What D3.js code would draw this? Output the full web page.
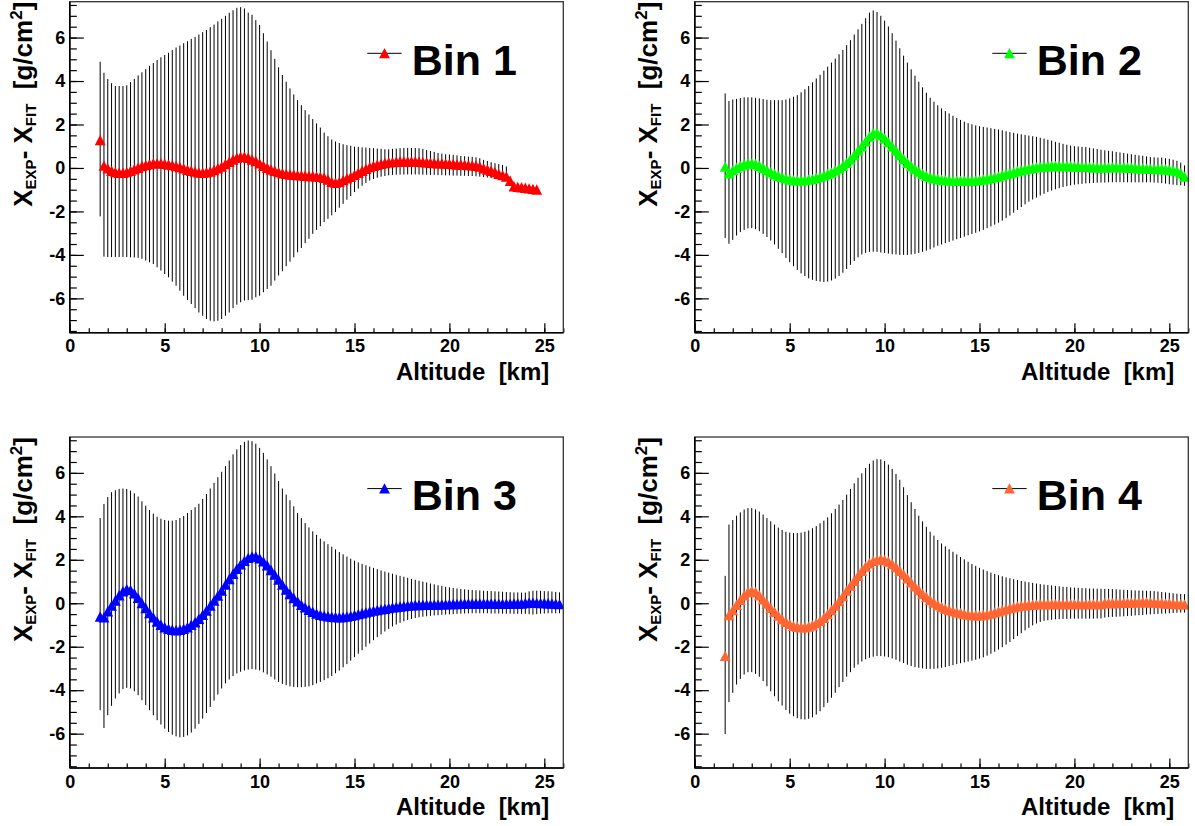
<!DOCTYPE html>
<html>
<head>
<meta charset="utf-8">
<script src="https://cdn.jsdelivr.net/npm/d3@7"></script>
<style>
  html, body { margin: 0; padding: 0; background: #fff; }
  svg { display: block; }
  text { font-family: "Liberation Sans", Arial, Helvetica, sans-serif; font-weight: bold; white-space: pre; }
</style>
</head>
<body>
<svg id="chart" width="1195" height="826"></svg>
<script>
// ---------------- DATA ----------------
const altitude = [
  1.6,1.8,2.0,2.2,2.4,2.6,2.8,3.0,3.2,3.4,
  3.6,3.8,4.0,4.2,4.4,4.6,4.8,5.0,5.2,5.4,
  5.6,5.8,6.0,6.2,6.4,6.6,6.8,7.0,7.2,7.4,
  7.6,7.8,8.0,8.2,8.4,8.6,8.8,9.0,9.2,9.4,
  9.6,9.8,10.0,10.2,10.4,10.6,10.8,11.0,11.2,11.4,
  11.6,11.8,12.0,12.2,12.4,12.6,12.8,13.0,13.2,13.4,
  13.6,13.8,14.0,14.2,14.4,14.6,14.8,15.0,15.2,15.4,
  15.6,15.8,16.0,16.2,16.4,16.6,16.8,17.0,17.2,17.4,
  17.6,17.8,18.0,18.2,18.4,18.6,18.8,19.0,19.2,19.4,
  19.6,19.8,20.0,20.2,20.4,20.6,20.8,21.0,21.2,21.4,
  21.6,21.8,22.0,22.2,22.4,22.6,22.8,23.0,23.2,23.4,
  23.6,23.8,24.0,24.2,24.4,24.6,24.8,25.0,25.2,25.4,
  25.6,25.8
];

const binLabels = ["Bin 1", "Bin 2", "Bin 3", "Bin 4"];
const binColors = ["#ff0000", "#00ff00", "#0000ff", "#ff6633"];

// Bin 1 : value, upper end of error bar, lower end of error bar
const bin1Value = [
  1.28,0.10,-0.03,-0.14,-0.20,-0.23,-0.23,-0.20,-0.14,-0.07,
  0.00,0.08,0.12,0.16,0.20,0.20,0.20,0.18,0.15,0.12,
  0.08,0.03,-0.03,-0.09,-0.14,-0.18,-0.22,-0.23,-0.21,-0.17,
  -0.10,-0.02,0.06,0.17,0.28,0.38,0.46,0.51,0.51,0.46,
  0.38,0.31,0.20,0.09,0.00,-0.08,-0.14,-0.20,-0.25,-0.28,
  -0.31,-0.32,-0.34,-0.35,-0.37,-0.38,-0.38,-0.40,-0.42,-0.46,
  -0.54,-0.65,-0.69,-0.65,-0.57,-0.49,-0.42,-0.32,-0.23,-0.14,
  -0.05,0.03,0.09,0.14,0.18,0.22,0.25,0.26,0.28,0.29,
  0.29,0.29,0.29,0.29,0.28,0.26,0.25,0.23,0.22,0.20,
  0.20,0.19,0.18,0.17,0.15,0.15,0.14,0.12,0.11,0.09,
  0.05,-0.02,-0.08,-0.14,-0.20,-0.28,-0.34,-0.40,-0.60,-0.85,
  -0.88,-0.90,-0.92,-0.95,-0.97,-1.00
];
const bin1High = [
  4.89,4.38,4.09,3.90,3.77,3.77,3.77,3.80,3.95,4.10,
  4.26,4.40,4.55,4.70,4.83,4.97,5.09,5.20,5.30,5.43,
  5.54,5.63,5.74,5.83,5.94,6.03,6.14,6.25,6.35,6.48,
  6.60,6.74,6.86,7.00,7.14,7.26,7.37,7.40,7.34,7.15,
  7.05,6.80,6.58,6.20,5.82,5.42,5.02,4.63,4.28,3.97,
  3.66,3.38,3.12,2.89,2.66,2.46,2.25,2.05,1.86,1.63,
  1.46,1.31,1.22,1.15,1.09,1.05,1.02,0.98,0.97,0.95,
  0.94,0.92,0.91,0.89,0.88,0.86,0.86,0.88,0.89,0.91,
  0.92,0.92,0.92,0.92,0.91,0.88,0.83,0.78,0.74,0.69,
  0.66,0.63,0.62,0.60,0.58,0.55,0.54,0.52,0.51,0.49,
  0.45,0.37,0.32,0.26,0.22,0.18,0.14,0.07,-0.40,-0.85,
  -0.88,-0.90,-0.92,-0.95,-0.97,-1.00
];
const bin1Low = [
  -2.23,-4.08,-4.10,-4.10,-4.10,-4.10,-4.10,-4.10,-4.11,-4.12,
  -4.14,-4.18,-4.26,-4.34,-4.42,-4.57,-4.72,-4.88,-5.03,-5.23,
  -5.42,-5.65,-5.88,-6.08,-6.26,-6.45,-6.65,-6.80,-6.95,-7.03,
  -7.06,-7.03,-6.95,-6.80,-6.65,-6.45,-6.29,-6.18,-6.10,-6.08,
  -6.06,-5.95,-5.88,-5.72,-5.57,-5.42,-5.18,-4.95,-4.75,-4.52,
  -4.31,-4.11,-3.88,-3.68,-3.46,-3.26,-3.03,-2.85,-2.68,-2.49,
  -2.34,-2.18,-2.03,-1.83,-1.65,-1.46,-1.29,-1.11,-0.95,-0.82,
  -0.69,-0.58,-0.51,-0.45,-0.40,-0.37,-0.34,-0.32,-0.31,-0.31,
  -0.30,-0.30,-0.30,-0.30,-0.30,-0.31,-0.31,-0.32,-0.32,-0.33,
  -0.33,-0.34,-0.34,-0.35,-0.35,-0.36,-0.36,-0.37,-0.37,-0.38,
  -0.40,-0.42,-0.44,-0.46,-0.48,-0.50,-0.52,-0.57,-0.75,-0.85,
  -0.88,-0.90,-0.92,-0.95,-0.97,-1.00
];

// Bin 2
const bin2Value = [
  0.05,-0.26,-0.11,0.00,0.09,0.15,0.20,0.20,0.17,0.09,
  0.00,-0.11,-0.20,-0.29,-0.37,-0.43,-0.49,-0.54,-0.57,-0.58,
  -0.58,-0.57,-0.54,-0.51,-0.46,-0.42,-0.35,-0.29,-0.22,-0.12,
  -0.03,0.09,0.23,0.39,0.58,0.79,1.00,1.22,1.44,1.59,
  1.60,1.50,1.36,1.18,0.99,0.79,0.59,0.40,0.23,0.08,
  -0.06,-0.18,-0.28,-0.37,-0.43,-0.48,-0.52,-0.55,-0.57,-0.58,
  -0.59,-0.60,-0.60,-0.60,-0.60,-0.59,-0.58,-0.57,-0.54,-0.50,
  -0.47,-0.43,-0.40,-0.34,-0.29,-0.25,-0.21,-0.15,-0.11,-0.07,
  -0.04,-0.01,0.02,0.04,0.06,0.07,0.08,0.08,0.08,0.08,
  0.08,0.07,0.06,0.05,0.04,0.04,0.03,0.02,0.02,0.02,
  0.02,0.02,0.03,0.03,0.02,0.02,0.01,0.00,-0.01,-0.02,
  -0.03,-0.04,-0.05,-0.05,-0.06,-0.06,-0.07,-0.10,-0.12,-0.15,
  -0.25,-0.40
];
const bin2High = [
  3.43,3.08,3.15,3.18,3.22,3.25,3.25,3.25,3.23,3.20,
  3.17,3.14,3.12,3.12,3.12,3.12,3.15,3.20,3.28,3.35,
  3.48,3.62,3.77,3.94,4.12,4.29,4.48,4.66,4.85,5.03,
  5.23,5.43,5.65,5.88,6.14,6.38,6.63,6.89,7.15,7.25,
  7.18,7.00,6.78,6.51,6.20,5.86,5.51,5.17,4.85,4.54,
  4.25,3.97,3.71,3.46,3.23,3.05,2.88,2.74,2.62,2.51,
  2.40,2.30,2.21,2.13,2.06,2.01,1.96,1.92,1.89,1.86,
  1.83,1.80,1.77,1.73,1.69,1.65,1.62,1.58,1.55,1.52,
  1.49,1.46,1.43,1.39,1.35,1.30,1.26,1.20,1.16,1.11,
  1.07,1.03,1.00,0.99,0.97,0.96,0.93,0.90,0.87,0.84,
  0.81,0.79,0.77,0.74,0.71,0.69,0.66,0.63,0.61,0.58,
  0.56,0.53,0.50,0.49,0.48,0.48,0.45,0.42,0.38,0.33,
  0.25,0.12
];
const bin2Low = [
  -3.22,-3.49,-3.31,-3.11,-2.95,-2.85,-2.78,-2.77,-2.82,-2.91,
  -3.03,-3.18,-3.34,-3.52,-3.72,-3.92,-4.14,-4.34,-4.52,-4.69,
  -4.85,-4.97,-5.08,-5.15,-5.20,-5.23,-5.25,-5.23,-5.18,-5.09,
  -4.97,-4.82,-4.65,-4.46,-4.28,-4.11,-3.98,-3.91,-3.86,-3.85,
  -3.86,-3.89,-3.91,-3.94,-3.97,-3.98,-4.00,-4.00,-4.00,-3.98,
  -3.95,-3.91,-3.86,-3.80,-3.74,-3.66,-3.58,-3.52,-3.46,-3.40,
  -3.34,-3.28,-3.22,-3.16,-3.10,-3.04,-2.98,-2.92,-2.85,-2.77,
  -2.69,-2.61,-2.52,-2.42,-2.31,-2.19,-2.06,-1.93,-1.80,-1.67,
  -1.55,-1.45,-1.36,-1.27,-1.19,-1.11,-1.04,-0.98,-0.93,-0.88,
  -0.84,-0.80,-0.77,-0.75,-0.73,-0.71,-0.70,-0.69,-0.68,-0.67,
  -0.67,-0.66,-0.66,-0.66,-0.66,-0.66,-0.66,-0.66,-0.66,-0.66,
  -0.66,-0.66,-0.66,-0.67,-0.68,-0.70,-0.72,-0.75,-0.77,-0.79,
  -0.80,-0.82
];

// Bin 3
const bin3Value = [
  -0.62,-0.66,-0.38,-0.12,0.12,0.36,0.54,0.64,0.60,0.45,
  0.24,0.00,-0.23,-0.46,-0.66,-0.85,-1.00,-1.11,-1.18,-1.23,
  -1.25,-1.23,-1.18,-1.11,-1.00,-0.88,-0.72,-0.54,-0.34,-0.12,
  0.11,0.34,0.58,0.85,1.11,1.35,1.58,1.78,1.95,2.08,
  2.14,2.14,2.06,1.92,1.74,1.52,1.31,1.08,0.85,0.62,
  0.42,0.23,0.08,-0.08,-0.20,-0.31,-0.40,-0.48,-0.54,-0.58,
  -0.61,-0.63,-0.64,-0.65,-0.64,-0.62,-0.59,-0.55,-0.51,-0.47,
  -0.43,-0.39,-0.35,-0.32,-0.29,-0.26,-0.23,-0.20,-0.18,-0.16,
  -0.14,-0.12,-0.10,-0.09,-0.09,-0.08,-0.08,-0.08,-0.07,-0.07,
  -0.06,-0.06,-0.05,-0.04,-0.04,-0.03,-0.02,-0.02,-0.02,-0.02,
  -0.02,-0.02,-0.02,-0.02,-0.03,-0.03,-0.03,-0.03,-0.03,-0.02,
  -0.02,-0.02,0.00,0.02,0.02,0.01,0.00,0.00,-0.01,-0.02,
  -0.03,-0.05
];
const bin3High = [
  3.92,4.57,4.89,5.11,5.20,5.26,5.28,5.26,5.18,5.06,
  4.91,4.69,4.49,4.29,4.12,3.98,3.89,3.83,3.80,3.80,
  3.83,3.92,4.02,4.15,4.29,4.42,4.58,4.80,5.03,5.28,
  5.54,5.80,6.05,6.31,6.57,6.85,7.08,7.28,7.43,7.49,
  7.46,7.34,7.15,6.92,6.62,6.31,5.97,5.62,5.28,5.00,
  4.74,4.46,4.15,3.92,3.69,3.49,3.31,3.15,2.97,2.85,
  2.72,2.60,2.48,2.36,2.25,2.15,2.05,1.96,1.88,1.81,
  1.75,1.69,1.63,1.57,1.51,1.46,1.41,1.36,1.31,1.26,
  1.22,1.17,1.12,1.08,1.04,1.00,0.96,0.91,0.87,0.83,
  0.80,0.76,0.73,0.70,0.68,0.66,0.64,0.62,0.61,0.60,
  0.59,0.58,0.57,0.56,0.55,0.54,0.53,0.52,0.51,0.50,
  0.50,0.49,0.49,0.55,0.58,0.58,0.57,0.56,0.55,0.54,
  0.52,0.50
];
const bin3Low = [
  -4.92,-5.74,-5.15,-4.72,-4.38,-4.15,-3.95,-3.89,-3.92,-4.05,
  -4.23,-4.46,-4.69,-4.92,-5.15,-5.38,-5.58,-5.77,-5.92,-6.05,
  -6.12,-6.17,-6.15,-6.08,-5.95,-5.77,-5.55,-5.31,-5.05,-4.77,
  -4.48,-4.20,-3.92,-3.69,-3.51,-3.35,-3.23,-3.15,-3.09,-3.05,
  -3.03,-3.05,-3.09,-3.18,-3.28,-3.38,-3.51,-3.62,-3.71,-3.77,
  -3.82,-3.85,-3.86,-3.86,-3.85,-3.82,-3.77,-3.69,-3.62,-3.54,
  -3.45,-3.35,-3.22,-3.10,-2.95,-2.80,-2.64,-2.48,-2.32,-2.16,
  -2.00,-1.85,-1.70,-1.56,-1.43,-1.30,-1.18,-1.07,-0.98,-0.90,
  -0.83,-0.77,-0.72,-0.68,-0.65,-0.62,-0.60,-0.58,-0.56,-0.55,
  -0.53,-0.52,-0.51,-0.50,-0.49,-0.48,-0.47,-0.47,-0.46,-0.46,
  -0.46,-0.46,-0.46,-0.47,-0.47,-0.47,-0.48,-0.48,-0.48,-0.49,
  -0.49,-0.49,-0.49,-0.50,-0.52,-0.50,-0.48,-0.47,-0.46,-0.46,
  -0.46,-0.46
];

// Bin 4
const bin4Value = [
  -2.43,-0.55,-0.32,-0.08,0.15,0.36,0.51,0.56,0.51,0.36,
  0.17,-0.02,-0.22,-0.40,-0.58,-0.74,-0.86,-0.97,-1.05,-1.09,
  -1.11,-1.11,-1.08,-1.02,-0.92,-0.82,-0.68,-0.51,-0.32,-0.12,
  0.09,0.32,0.57,0.80,1.03,1.26,1.49,1.68,1.83,1.94,
  2.00,2.02,1.98,1.91,1.80,1.66,1.49,1.32,1.14,0.95,
  0.77,0.60,0.43,0.28,0.14,0.02,-0.09,-0.18,-0.26,-0.32,
  -0.37,-0.42,-0.46,-0.50,-0.53,-0.55,-0.56,-0.56,-0.55,-0.52,
  -0.48,-0.43,-0.38,-0.33,-0.28,-0.23,-0.19,-0.15,-0.12,-0.10,
  -0.08,-0.07,-0.06,-0.05,-0.05,-0.05,-0.05,-0.05,-0.05,-0.05,
  -0.05,-0.05,-0.05,-0.05,-0.05,-0.05,-0.05,-0.05,-0.05,-0.05,
  0.00,0.00,0.00,0.00,0.01,0.01,0.02,0.02,0.03,0.04,
  0.05,0.04,0.03,0.02,0.01,0.00,-0.02,-0.02,-0.03,-0.04,
  -0.05,-0.06
];
const bin4High = [
  1.26,3.62,3.83,4.03,4.18,4.31,4.38,4.38,4.32,4.22,
  4.08,3.92,3.77,3.62,3.48,3.37,3.29,3.25,3.23,3.23,
  3.25,3.29,3.35,3.45,3.55,3.68,3.80,3.95,4.14,4.34,
  4.54,4.75,5.00,5.26,5.52,5.77,5.98,6.22,6.42,6.57,
  6.63,6.62,6.54,6.38,6.18,5.95,5.68,5.34,4.98,4.65,
  4.34,4.03,3.77,3.52,3.29,3.11,2.91,2.75,2.62,2.49,
  2.37,2.25,2.13,2.02,1.91,1.81,1.72,1.63,1.55,1.48,
  1.41,1.35,1.29,1.24,1.19,1.15,1.11,1.07,1.03,1.00,
  0.97,0.94,0.91,0.88,0.86,0.84,0.82,0.80,0.78,0.76,
  0.75,0.73,0.72,0.71,0.70,0.69,0.68,0.68,0.67,0.67,
  0.66,0.66,0.65,0.64,0.63,0.62,0.61,0.60,0.59,0.59,
  0.58,0.58,0.57,0.56,0.54,0.52,0.50,0.48,0.46,0.44,
  0.43,0.42
];
const bin4Low = [
  -6.02,-4.55,-4.12,-3.74,-3.48,-3.28,-3.17,-3.17,-3.25,-3.38,
  -3.58,-3.82,-4.05,-4.28,-4.51,-4.71,-4.91,-5.08,-5.20,-5.29,
  -5.34,-5.35,-5.32,-5.25,-5.12,-4.97,-4.78,-4.58,-4.35,-4.12,
  -3.86,-3.62,-3.38,-3.17,-2.97,-2.82,-2.68,-2.58,-2.51,-2.46,
  -2.43,-2.43,-2.45,-2.48,-2.54,-2.60,-2.68,-2.75,-2.83,-2.89,
  -2.94,-2.97,-3.00,-3.02,-3.02,-3.02,-3.00,-2.97,-2.94,-2.89,
  -2.85,-2.80,-2.76,-2.72,-2.68,-2.64,-2.60,-2.55,-2.49,-2.41,
  -2.32,-2.23,-2.13,-2.02,-1.90,-1.78,-1.65,-1.51,-1.38,-1.25,
  -1.13,-1.02,-0.93,-0.86,-0.81,-0.78,-0.76,-0.74,-0.73,-0.72,
  -0.72,-0.71,-0.71,-0.71,-0.71,-0.71,-0.71,-0.71,-0.70,-0.70,
  -0.66,-0.64,-0.63,-0.62,-0.61,-0.60,-0.59,-0.58,-0.56,-0.55,
  -0.54,-0.52,-0.51,-0.50,-0.49,-0.48,-0.47,-0.46,-0.45,-0.44,
  -0.43,-0.43
];

// Axis tick values
const xMajorTicks = [0, 5, 10, 15, 20, 25];
const xMinorTicks = [0,1,2,3,4,5,6,7,8,9,10,11,12,13,14,15,16,17,18,19,20,21,22,23,24,25,26];
const yMajorTicks = [-6, -4, -2, 0, 2, 4, 6];
const yMinorTicks = [-7.5,-7,-6.5,-6,-5.5,-5,-4.5,-4,-3.5,-3,-2.5,-2,-1.5,-1,-0.5,0,
                     0.5,1,1.5,2,2.5,3,3.5,4,4.5,5,5.5,6,6.5,7,7.5];
const xDomain = [0, 26];
const yDomain = [-7.58, 7.65];

// ---------------- LAYOUT ----------------
const series = [
  {value: bin1Value, high: bin1High, low: bin1Low},
  {value: bin2Value, high: bin2High, low: bin2Low},
  {value: bin3Value, high: bin3High, low: bin3Low},
  {value: bin4Value, high: bin4High, low: bin4Low}
];
const frames = [
  {left: 69.8,  top: 1.7},
  {left: 694.8, top: 1.7},
  {left: 69.8,  top: 437},
  {left: 694.8, top: 437}
];
const W = 493.5, H = 331;
const FONT = '"Liberation Sans", Arial, Helvetica, sans-serif';

const svg = d3.select("#chart");
svg.append("rect").attr("width", 1195).attr("height", 826).attr("fill", "#fff");

const triPath = "M-5.4,5L5.4,5L0,-5.4Z";

series.forEach((s, i) => {
  const f = frames[i];
  const x = d3.scaleLinear().domain(xDomain).range([0, W]);
  const y = d3.scaleLinear().domain(yDomain).range([H, 0]);
  const g = svg.append("g").attr("transform", `translate(${f.left},${f.top})`);

  const clipId = "clip" + i;
  g.append("clipPath").attr("id", clipId)
    .append("rect").attr("x", 0).attr("y", 0).attr("width", W).attr("height", H);

  const n = Math.min(s.value.length, s.high.length, s.low.length, altitude.length);
  const pts = d3.range(n).map(k => ({x: altitude[k], v: s.value[k], hi: s.high[k], lo: s.low[k]}));

  const data = g.append("g").attr("clip-path", `url(#${clipId})`);
  // error bars
  data.append("g").selectAll("line").data(pts).join("line")
    .attr("x1", d => x(d.x)).attr("x2", d => x(d.x))
    .attr("y1", d => y(d.hi)).attr("y2", d => y(d.lo))
    .attr("stroke", "#000").attr("stroke-width", 1);
  // markers
  data.append("g").selectAll("path").data(pts).join("path")
    .attr("d", triPath)
    .attr("transform", d => `translate(${x(d.x)},${y(d.v)})`)
    .attr("fill", binColors[i]);

  // axes (ticks point inward)
  const xMaj = d3.axisBottom(x).tickValues(xMajorTicks).tickSize(-9.5).tickPadding(7)
    .tickFormat(d => String(d));
  const xMin = d3.axisBottom(x).tickValues(xMinorTicks).tickSize(-4.5).tickFormat("");
  const yMaj = d3.axisLeft(y).tickValues(yMajorTicks).tickSize(-14).tickPadding(4.5)
    .tickFormat(d => String(d));
  const yMin = d3.axisLeft(y).tickValues(yMinorTicks).tickSize(-7).tickFormat("");

  const gxMin = g.append("g").attr("transform", `translate(0,${H})`).call(xMin);
  const gxMaj = g.append("g").attr("transform", `translate(0,${H})`).call(xMaj);
  const gyMin = g.append("g").call(yMin);
  const gyMaj = g.append("g").call(yMaj);
  [gxMin, gxMaj, gyMin, gyMaj].forEach(a => {
    a.select(".domain").remove();
    a.selectAll(".tick line").attr("stroke", "#000").attr("stroke-width", 1.2);
    a.selectAll("text").attr("font-family", FONT).attr("font-weight", "bold")
      .attr("font-size", 18).attr("fill", "#000");
  });

  // frame
  g.append("rect").attr("x", 0).attr("y", 0).attr("width", W).attr("height", H)
    .attr("fill", "none").attr("stroke", "#333").attr("stroke-width", 1.3);
  g.append("line").attr("x1", 0).attr("x2", 0).attr("y1", 0).attr("y2", H)
    .attr("stroke", "#000").attr("stroke-width", 1.6);
  g.append("line").attr("x1", 0).attr("x2", W).attr("y1", H).attr("y2", H)
    .attr("stroke", "#000").attr("stroke-width", 1.6);

  // x title
  g.append("text").attr("x", 479.5).attr("y", H + 47.3)
    .attr("text-anchor", "end").attr("font-size", 24).attr("fill", "#000")
    .text("Altitude  [km]");

  // y title (rotated)
  const yt = g.append("text")
    .attr("transform", `translate(-38.1,0) rotate(-90)`)
    .attr("text-anchor", "end").attr("font-size", 26).attr("fill", "#000");
  yt.append("tspan").text("X");
  yt.append("tspan").attr("font-size", 15).attr("dy", 4.5).text("EXP");
  yt.append("tspan").attr("dy", -4.5).text("- X");
  yt.append("tspan").attr("font-size", 15).attr("dy", 4.5).text("FIT");
  yt.append("tspan").attr("dy", -4.5).text("  [g/cm");
  yt.append("tspan").attr("font-size", 17).attr("dy", -10).text("2");
  yt.append("tspan").attr("dy", 10).text("]");

  // legend
  const lg = g.append("g");
  lg.append("line").attr("x1", 297.5).attr("x2", 331.9).attr("y1", 51.6).attr("y2", 51.6)
    .attr("stroke", "#000").attr("stroke-width", 1);
  lg.append("path").attr("d", triPath).attr("transform", "translate(314.7,51.6)")
    .attr("fill", binColors[i]);
  lg.append("text").attr("x", 341.9).attr("y", 73.3).attr("font-size", 43).attr("fill", "#000")
    .text(binLabels[i]);
});
</script>
</body>
</html>
